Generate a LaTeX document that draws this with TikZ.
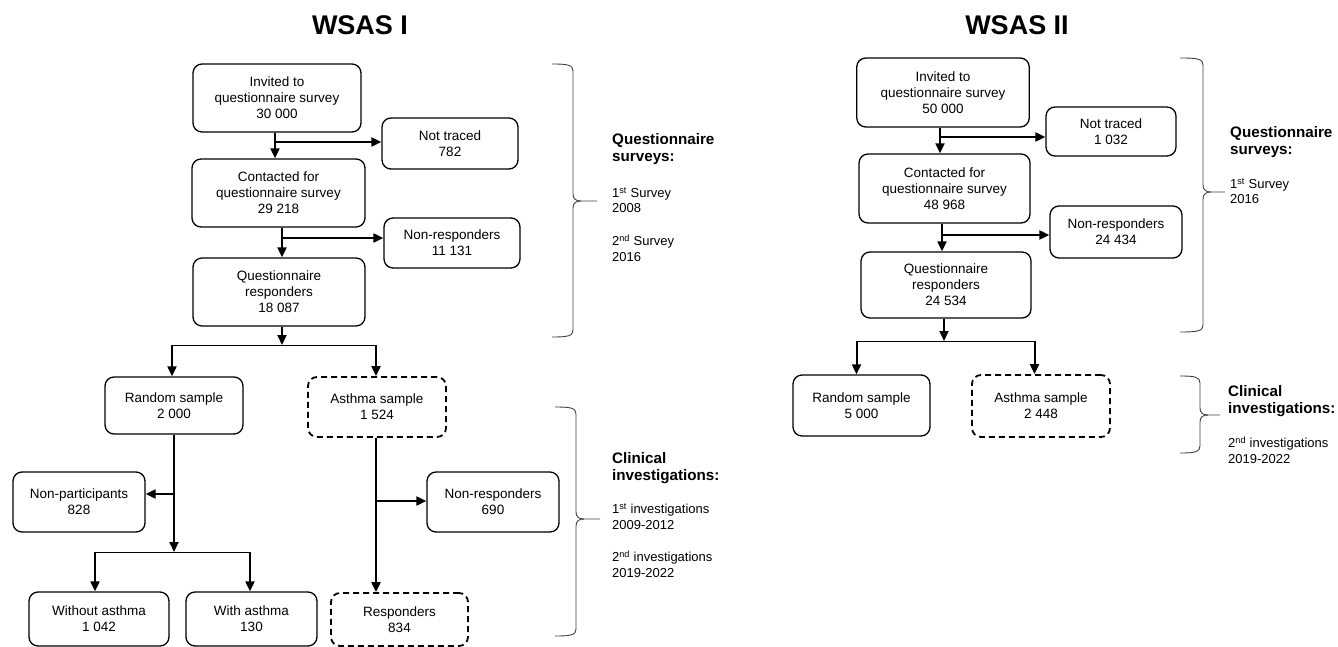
\documentclass[tikz,border=0pt]{standalone}
\usepackage{fontspec}
\setmainfont{Liberation Sans}
\usetikzlibrary{arrows.meta}
\newcommand\wsbrace[6]{%
  \draw[bracel] (#1,#4) .. controls ({#2-5},#4) and (#2,{#4+1}) .. (#2,{#4+7})
    -- (#2,{#5-7}) .. controls (#2,{#5-2}) and ({#2+3},#5) .. ({#2+8},#5) -- (#3,#5);
  \draw[bracel] ({#2+8},#5) .. controls ({#2+3},#5) and (#2,{#5+2}) .. (#2,{#5+7})
    -- (#2,{#6-7}) .. controls (#2,{#6-1}) and ({#2-5},#6) .. (#1,#6);}
\begin{document}
\begin{tikzpicture}[x=1pt,y=-1pt,
  box/.style={draw,line width=1.3pt,rounded corners=9pt,align=center,
    inner sep=0pt,font=\fontsize{13.5}{16}\selectfont},
  dbox/.style={box,dash pattern=on 6pt off 4pt,line width=1.8pt},
  arr/.style={line width=2pt,-{Triangle[length=10pt,width=9pt]}},
  thin/.style={line width=0.9pt},
  bracel/.style={line width=0.9pt,black!75},
  ttl/.style={font=\fontsize{27}{30}\selectfont\bfseries},
  lab/.style={anchor=base west,align=left,inner sep=0pt,font=\fontsize{15.2}{17}\selectfont\bfseries},
  sml/.style={anchor=base west,align=left,inner sep=0pt,font=\fontsize{13}{15.5}\selectfont}]
\useasboundingbox (0,0) rectangle (1338,647);

% ---------- WSAS I ----------
\node[ttl] (t1) at (360,25) {WSAS I};
\node[box,minimum width=168pt,minimum height=68pt] (inv1) at (277,98) {Invited to\\questionnaire survey\\30 000};
\node[box,minimum width=136pt,minimum height=51pt] (nt1) at (450,143.5) {Not traced\\782};
\node[box,minimum width=173pt,minimum height=68pt] (con1) at (278.5,193) {Contacted for\\questionnaire survey\\29 218};
\node[box,minimum width=136pt,minimum height=50pt] (nr1) at (452,243) {Non-responders\\11 131};
\node[box,minimum width=172pt,minimum height=68pt] (qr1) at (279,292) {Questionnaire\\responders\\18 087};
\node[box,minimum width=138pt,minimum height=57pt] (rs1) at (174,405.5) {Random sample\\2 000};
\node[dbox,minimum width=138pt,minimum height=60pt] (as1) at (377,407) {Asthma sample\\1 524};
\node[box,minimum width=132pt,minimum height=60pt] (np1) at (79,502) {Non-participants\\828};
\node[box,minimum width=132pt,minimum height=60pt] (nr1b) at (493,502) {Non-responders\\690};
\node[box,minimum width=140pt,minimum height=54pt] (wo1) at (99,619) {Without asthma\\1 042};
\node[box,minimum width=131pt,minimum height=54pt] (wi1) at (251.5,619) {With asthma\\130};
\node[dbox,minimum width=137pt,minimum height=53pt] (re1) at (399.5,619.5) {Responders\\834};

\coordinate (a1) at (275,142);
\draw[arr] (a1 |- inv1.south) -- (a1 |- con1.north);
\draw[arr] (a1) -- (nt1.west |- a1);
\coordinate (a2) at (282,238);
\draw[arr] (a2 |- con1.south) -- (a2 |- qr1.north);
\draw[arr] (a2) -- (nr1.west |- a2);
\coordinate (s1) at (282,345);
\coordinate (s1l) at (172,345);
\coordinate (s1r) at (376,345);
\draw[arr] (s1 |- qr1.south) -- (s1);
\draw[thin] (s1l) -- (s1r);
\draw[arr] (s1l) -- (s1l |- rs1.north);
\draw[arr] (s1r) -- (s1r |- as1.north);
\coordinate (r1) at (174,552);
\coordinate (rb) at (174,494);
\draw[arr] (r1 |- rs1.south) -- (r1);
\draw[arr] (rb) -- (np1.east |- rb);
\coordinate (r1l) at (95,552);
\coordinate (r1r) at (250,552);
\draw[thin] (r1l) -- (r1r);
\draw[arr] (r1l) -- (r1l |- wo1.north);
\draw[arr] (r1r) -- (r1r |- wi1.north);
\coordinate (q1) at (376,501);
\draw[arr] (q1 |- as1.south) -- (q1 |- re1.north);
\draw[arr] (q1) -- (nr1b.west |- q1);

\wsbrace{552}{573}{597}{64}{201}{337}
\wsbrace{555}{576}{600}{407}{519}{636}
\node[lab] (l1) at (612,162) {Questionnaire\\surveys:};
\node[sml] (l2) at (612,213) {1\textsuperscript{st} Survey\\2008};
\node[sml] (l3) at (612,261) {2\textsuperscript{nd} Survey\\2016};
\node[lab] (l4) at (612,480) {Clinical\\investigations:};
\node[sml] (l5) at (612,529) {1\textsuperscript{st} investigations\\2009-2012};
\node[sml] (l6) at (612,577) {2\textsuperscript{nd} investigations\\2019-2022};

% ---------- WSAS II ----------
\node[ttl] (t2) at (1017,25) {WSAS II};
\node[box,minimum width=172.5pt,minimum height=69pt] (inv2) at (943,92.5) {Invited to\\questionnaire survey\\50 000};
\node[box,minimum width=130pt,minimum height=49pt] (nt2) at (1111,131.5) {Not traced\\1 032};
\node[box,minimum width=171pt,minimum height=69pt] (con2) at (944.5,188.5) {Contacted for\\questionnaire survey\\48 968};
\node[box,minimum width=132pt,minimum height=52pt] (nr2) at (1116,232) {Non-responders\\24 434};
\node[box,minimum width=170pt,minimum height=66pt] (qr2) at (946,285) {Questionnaire\\responders\\24 534};
\node[box,minimum width=137pt,minimum height=61pt] (rs2) at (861.5,405.5) {Random sample\\5 000};
\node[dbox,minimum width=138pt,minimum height=62pt] (as2) at (1041,406) {Asthma sample\\2 448};

\coordinate (b1) at (940,137);
\draw[arr] (b1 |- inv2.south) -- (b1 |- con2.north);
\draw[arr] (b1) -- (nt2.west |- b1);
\coordinate (b2) at (942,235);
\draw[arr] (b2 |- con2.south) -- (b2 |- qr2.north);
\draw[arr] (b2) -- (nr2.west |- b2);
\coordinate (s2) at (944,341);
\coordinate (s2l) at (856.5,341);
\coordinate (s2r) at (1034.5,341);
\draw[arr] (s2 |- qr2.south) -- (s2);
\draw[thin] (s2l) -- (s2r);
\draw[arr] (s2l) -- (s2l |- rs2.north);
\draw[arr] (s2r) -- (s2r |- as2.north);

\wsbrace{1180}{1203}{1225}{58}{192}{332}
\wsbrace{1180}{1200}{1220}{376}{415}{453}
\node[lab] (m1) at (1230,155) {Questionnaire\\surveys:};
\node[sml] (m2) at (1230,204) {1\textsuperscript{st} Survey\\2016};
\node[lab] (m3) at (1228,413) {Clinical\\investigations:};
\node[sml] (m4) at (1228,463) {2\textsuperscript{nd} investigations\\2019-2022};
\end{tikzpicture}
\end{document}
